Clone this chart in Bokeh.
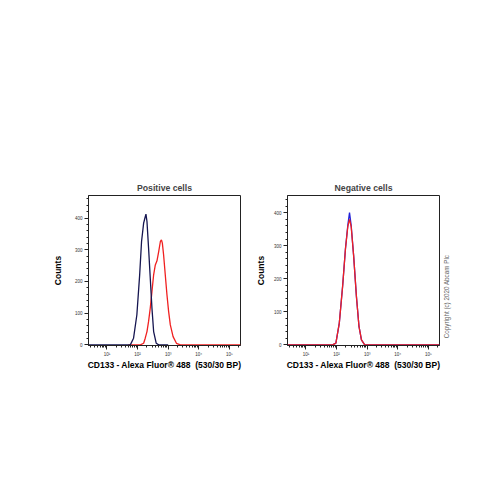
from bokeh.plotting import figure
from bokeh.layouts import row
from bokeh.models import Range1d, FixedTicker, CustomJSTickFormatter
from bokeh.core.properties import value
from bokeh.embed import file_html
from bokeh.resources import INLINE

# ---------------- data ----------------
titles = ["Positive cells", "Negative cells"]
x_label = "CD133 - Alexa Fluor® 488 \u00a0(530/30 BP)"
y_label = "Counts"
copyright_text = "Copyright (c) 2020 Abcam Plc"
y_ticks = [0, 100, 200, 300, 400]
x_ticks = [10, 100, 1000, 10000, 100000]

# Positive cells: control (dark blue) and stained (red)
pos_ctrl_x = [2.5, 40, 58, 74, 95, 117, 135, 158, 174, 188, 203, 229, 260, 295, 335, 408, 490, 1000]
pos_ctrl_y = [0, 0, 0, 21, 95, 220, 326, 384, 400, 412, 389, 305, 210, 116, 42, 5, 0, 0]
pos_stain_x = [50, 123, 158, 178, 203, 229, 260, 295, 335, 380, 431, 490, 556, 603, 645, 708,
               803, 912, 1035, 1175, 1445, 1860, 2510, 230000]
pos_stain_y = [0, 0, 5, 21, 42, 74, 116, 168, 221, 252, 265, 294, 326, 331, 321, 284,
               221, 158, 105, 63, 26, 5, 0, 0]

# Negative cells: control (blue) and stained (red)
neg_x = [2.5, 74, 95, 123, 158, 195, 233, 265, 300, 361, 444, 540, 650, 830, 230000]
neg_ctrl_y = [0, 0, 5, 66, 178, 290, 362, 400, 362, 270, 148, 56, 15, 0, 0]
neg_stain_y = [0, 0, 5, 66, 178, 290, 358, 380, 358, 270, 148, 56, 15, 0, 0]

y_ends = [471, 452]

FONT = "Liberation Sans"
TOP, FRAME_H, BOTTOM = 195, 150, 40
sup_js = """
const s = {1:'10\u00b9', 2:'10\u00b2', 3:'10\u00b3', 4:'10\u2074', 5:'10\u2075'};
const e = Math.round(Math.log10(tick));
return s[e] || '';
"""


def make_panel(title, y_end, border_left, border_right, label_standoff):
    p = figure(frame_width=152, frame_height=FRAME_H,
               x_axis_type="log",
               x_range=Range1d(2.5, 2.3e5), y_range=Range1d(-2, y_end),
               output_backend="svg", toolbar_location=None,
               min_border_left=border_left, min_border_right=border_right,
               min_border_top=TOP, min_border_bottom=BOTTOM,
               title=title)
    p.title.align = "center"
    p.title.text_font = FONT
    p.title.text_font_style = "bold"
    p.title.text_font_size = "8.7px"
    p.title.standoff = 6
    p.title.offset = 0
    p.grid.visible = False
    p.outline_line_color = "#222222"
    p.outline_line_width = 1
    p.background_fill_color = "white"
    p.border_fill_color = "white"

    p.xaxis.ticker = FixedTicker(ticks=x_ticks,
                                 minor_ticks=[k * 10 ** e for e in range(0, 6) for k in range(2, 10)])
    p.xaxis.formatter = CustomJSTickFormatter(code=sup_js)
    p.yaxis.ticker = FixedTicker(ticks=y_ticks, minor_ticks=list(range(0, 480, 20)))

    for ax in (p.xaxis[0], p.yaxis[0]):
        ax.axis_line_color = "#222222"
        ax.major_tick_line_color = "#222222"
        ax.minor_tick_line_color = "#222222"
        ax.major_tick_out = 4
        ax.major_tick_in = 0
        ax.minor_tick_out = 2
        ax.minor_tick_in = 0
        ax.major_label_text_font = FONT
        ax.major_label_text_font_size = "4.5px"
        ax.major_label_text_color = "#333333"
        ax.major_label_standoff = 2
        ax.axis_label_text_font = FONT
        ax.axis_label_text_font_style = "bold"
        ax.axis_label_text_font_size = "8.5px"
        ax.axis_label_text_color = "black"
    p.xaxis.axis_label = x_label
    p.yaxis.axis_label = y_label
    p.xaxis.axis_label_standoff = 0
    p.yaxis.axis_label_standoff = label_standoff
    return p


p1 = make_panel(titles[0], y_ends[0], 88, 10, 9)
p1.line(pos_stain_x, pos_stain_y, line_color="#f02020", line_width=1.3)
p1.line(pos_ctrl_x, pos_ctrl_y, line_color="#151550", line_width=1.3)

p2 = make_panel(titles[1], y_ends[1], 37, 3, 5)
p2.line(neg_x, neg_ctrl_y, line_color="#2020d8", line_width=1.3)
p2.line(neg_x, neg_stain_y, line_color="#f02020", line_width=1.3)

# narrow strip (frame aligned with the panels' frames) holding the vertical copyright note
p3 = figure(frame_width=20, frame_height=FRAME_H,
            x_range=Range1d(0, 20), y_range=Range1d(0, FRAME_H),
            output_backend="svg", toolbar_location=None,
            min_border_left=0, min_border_right=0,
            min_border_top=TOP, min_border_bottom=BOTTOM)
p3.axis.visible = False
p3.grid.visible = False
p3.outline_line_color = None
p3.text(x=[4], y=[49], text=[copyright_text], angle=90, angle_units="deg",
        text_font=value(FONT), text_font_size="6.3px", text_color="#666666",
        text_align="center", text_baseline="middle")

layout = row(p1, p2, p3, spacing=0)
open("out.html", "w").write(file_html(layout, INLINE))
